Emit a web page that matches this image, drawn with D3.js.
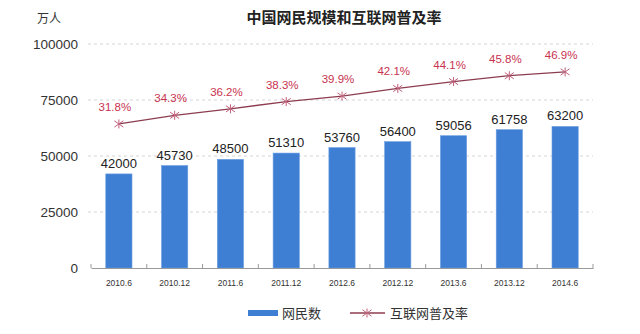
<!DOCTYPE html>
<html>
<head>
<meta charset="utf-8">
<script src="https://cdn.jsdelivr.net/npm/d3@7"></script>
<style>
  body { margin: 0; background: #fff; }
  svg { display: block; font-family: "Liberation Sans", Arial, sans-serif; }
  .grid line { stroke: #d4d4d4; stroke-dasharray: 3,3; }
</style>
</head>
<body>
<div id="chart"></div>
<script>
var categories = ['2010.6', '2010.12', '2011.6', '2011.12', '2012.6', '2012.12', '2013.6', '2013.12', '2014.6'];
var netizens = [42000, 45730, 48500, 51310, 53760, 56400, 59056, 61758, 63200];
var penetration = [31.8, 34.3, 36.2, 38.3, 39.9, 42.1, 44.1, 45.8, 46.9];
var yTicks = [0, 25000, 50000, 75000, 100000];

var width = 640, height = 334;
var margin = { top: 44, right: 47, bottom: 66, left: 91 };
var innerW = width - margin.left - margin.right;
var innerH = height - margin.top - margin.bottom;

var svg = d3.select('#chart').append('svg')
  .attr('width', width)
  .attr('height', height);

// title + unit
svg.append('text')
  .attr('x', 344).attr('y', 23)
  .attr('text-anchor', 'middle')
  .attr('font-family', '"Noto Sans CJK SC", sans-serif')
  .attr('font-weight', 'bold')
  .attr('font-size', 15)
  .attr('fill', '#222')
  .text('中国网民规模和互联网普及率');

svg.append('text')
  .attr('x', 37).attr('y', 23)
  .attr('font-family', '"Noto Sans CJK SC", sans-serif')
  .attr('font-size', 12)
  .attr('fill', '#333')
  .text('万人');

var g = svg.append('g').attr('transform', 'translate(' + margin.left + ',' + margin.top + ')');

var x = d3.scaleBand().domain(categories).range([0, innerW]).paddingInner(0.53).paddingOuter(0.265);
var y = d3.scaleLinear().domain([0, 100000]).range([innerH, 0]);
// hidden secondary axis for the rate line
var y2 = d3.scaleLinear().domain([-10, 55]).range([innerH, 0]);

// gridlines
g.append('g').attr('class', 'grid')
  .selectAll('line').data(yTicks.slice(1)).enter().append('line')
  .attr('x1', -3).attr('x2', innerW)
  .attr('y1', function(d) { return y(d); })
  .attr('y2', function(d) { return y(d); });

// y axis labels
var yAxis = d3.axisLeft(y).tickValues(yTicks).tickFormat(d3.format('d')).tickSize(0).tickPadding(13);
g.append('g').call(yAxis)
  .call(function(s) { s.select('.domain').remove(); })
  .selectAll('text')
  .attr('font-size', 13.5)
  .attr('fill', '#333');

// bars
g.selectAll('.bar').data(netizens).enter().append('rect')
  .attr('class', 'bar')
  .attr('x', function(d, i) { return x(categories[i]); })
  .attr('width', x.bandwidth())
  .attr('y', function(d) { return y(d); })
  .attr('height', function(d) { return innerH - y(d); })
  .attr('fill', '#3e7fd4')
  .attr('stroke', '#6a9de0')
  .attr('stroke-width', 0.6);

// bar labels
g.selectAll('.blabel').data(netizens).enter().append('text')
  .attr('x', function(d, i) { return x(categories[i]) + x.bandwidth() / 2; })
  .attr('y', function(d) { return y(d) - 6; })
  .attr('text-anchor', 'middle')
  .attr('font-size', 13)
  .attr('fill', '#222')
  .text(function(d) { return d; });

// x axis
var step = x.step();
var xAxis = d3.axisBottom(x).tickSize(0).tickPadding(12);
var xa = g.append('g').attr('transform', 'translate(0,' + innerH + ')').call(xAxis);
xa.select('.domain').attr('stroke', '#999');
xa.selectAll('text').attr('font-size', 8.5).attr('fill', '#333');
xa.selectAll('.sep').data(d3.range(categories.length + 1)).enter().append('line')
  .attr('x1', function(d) { return d * step; })
  .attr('x2', function(d) { return d * step; })
  .attr('y1', 0).attr('y2', -4)
  .attr('stroke', '#999');

// rate line
var line = d3.line()
  .x(function(d, i) { return x(categories[i]) + x.bandwidth() / 2; })
  .y(function(d) { return y2(d); });

g.append('path').datum(penetration)
  .attr('d', line)
  .attr('fill', 'none')
  .attr('stroke', '#8c3d50')
  .attr('stroke-width', 1.3);

function star(sel, r) {
  sel.append('line').attr('x1', -r).attr('x2', r).attr('y1', -r * 0.7).attr('y2', r * 0.7);
  sel.append('line').attr('x1', -r).attr('x2', r).attr('y1', r * 0.7).attr('y2', -r * 0.7);
  sel.append('line').attr('x1', 0).attr('x2', 0).attr('y1', -r).attr('y2', r);
}

g.selectAll('.mk').data(penetration).enter().append('g')
  .attr('class', 'mk')
  .attr('transform', function(d, i) {
    return 'translate(' + (x(categories[i]) + x.bandwidth() / 2) + ',' + y2(d) + ')';
  })
  .attr('stroke', '#c0607a')
  .attr('stroke-width', 1)
  .each(function() { star(d3.select(this), 4.5); });

g.selectAll('.plabel').data(penetration).enter().append('text')
  .attr('x', function(d, i) { return x(categories[i]) + x.bandwidth() / 2 - 4; })
  .attr('y', function(d) { return y2(d) - 13; })
  .attr('text-anchor', 'middle')
  .attr('font-size', 11.5)
  .attr('fill', '#c8324f')
  .text(function(d) { return d.toFixed(1) + '%'; });

// legend
var lg = svg.append('g').attr('transform', 'translate(0,313)');
lg.append('rect').attr('x', 248).attr('y', -3).attr('width', 30).attr('height', 6).attr('fill', '#3e7fd4');
lg.append('text').attr('x', 282).attr('y', 5)
  .attr('font-family', '"Noto Sans CJK SC", sans-serif')
  .attr('font-size', 13).attr('fill', '#333').text('网民数');
lg.append('line').attr('x1', 350).attr('x2', 385).attr('y1', 0).attr('y2', 0)
  .attr('stroke', '#8c3d50').attr('stroke-width', 1.3);
var ls = lg.append('g').attr('transform', 'translate(367,0)').attr('stroke', '#c0607a');
star(ls, 4.5);
lg.append('text').attr('x', 390).attr('y', 5)
  .attr('font-family', '"Noto Sans CJK SC", sans-serif')
  .attr('font-size', 13).attr('fill', '#333').text('互联网普及率');
</script>
</body>
</html>
